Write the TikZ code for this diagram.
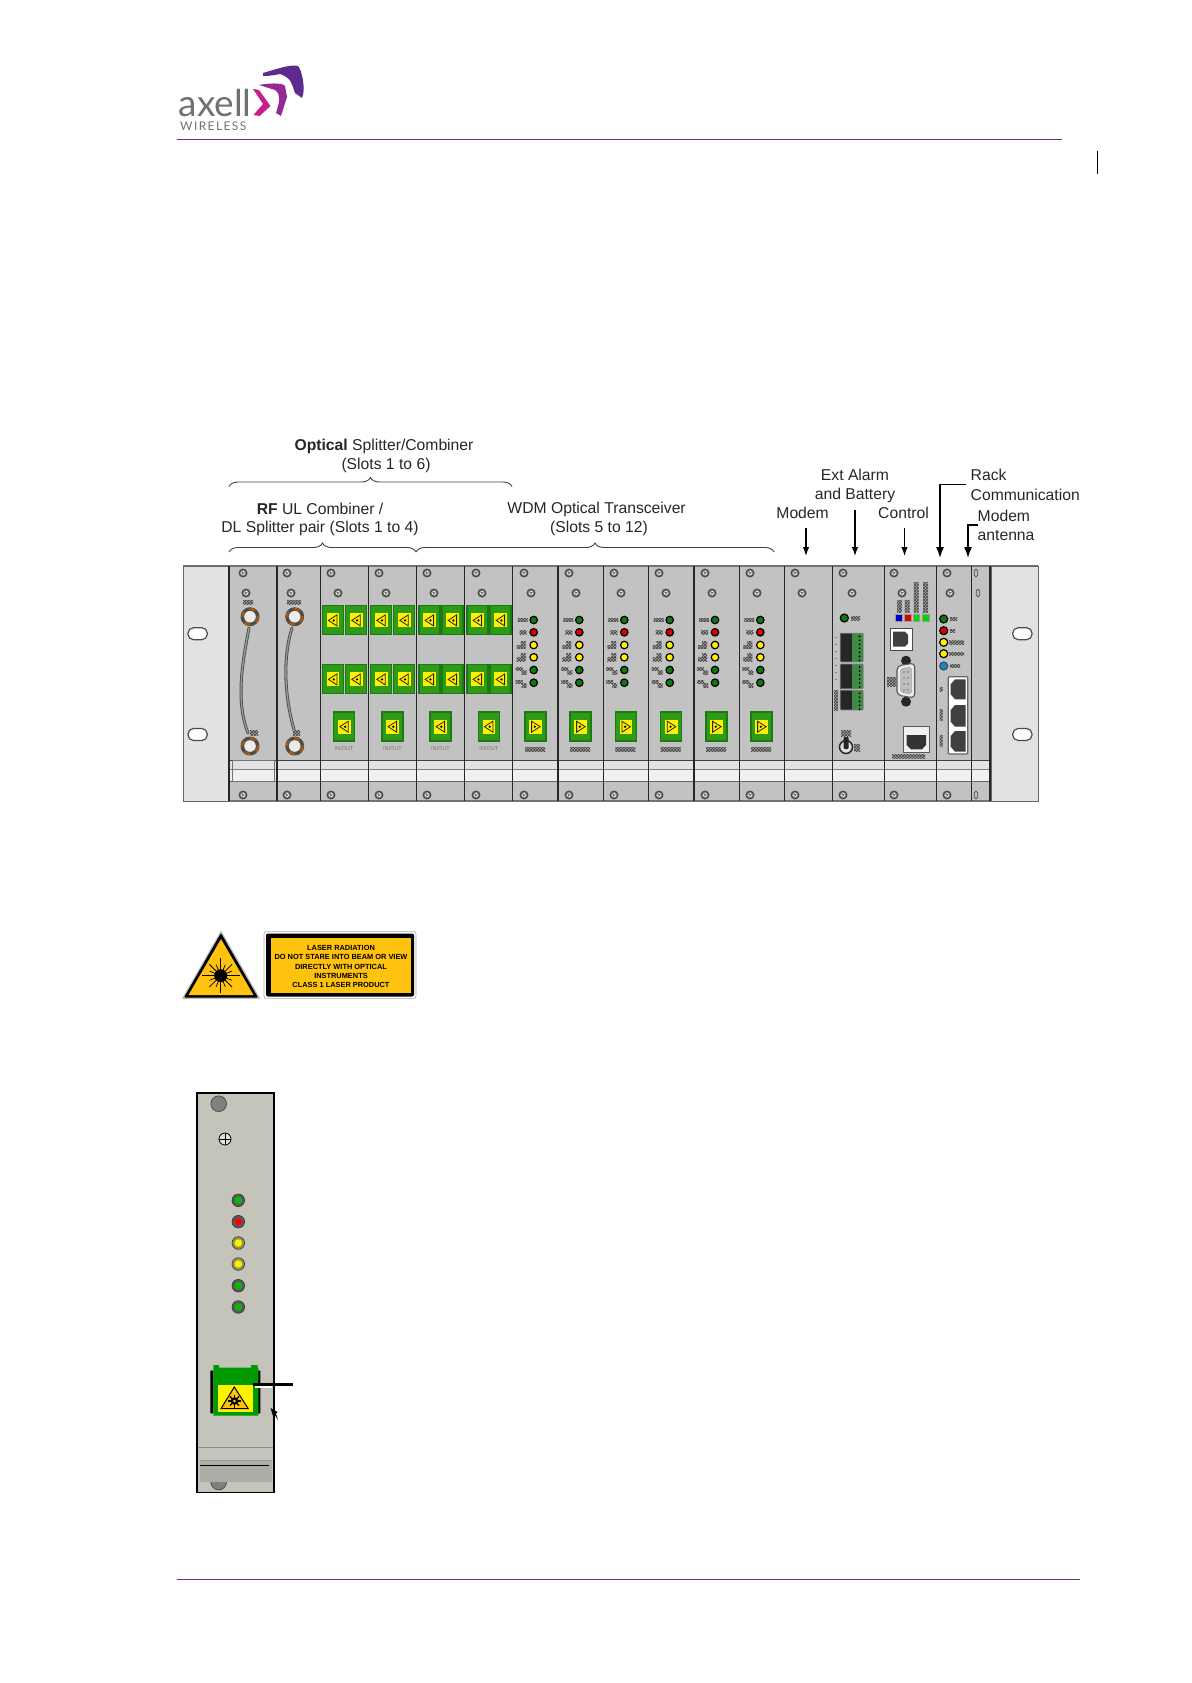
\documentclass[tikz,border=0pt]{standalone}
\usepackage{fontspec}
\setmainfont{Liberation Sans}
\newfontfamily\logofont{Lato}
\usetikzlibrary{arrows.meta,decorations.pathreplacing,patterns}
\definecolor{panel}{HTML}{C2C2C2}
\definecolor{earfill}{HTML}{E2E2E2}
\definecolor{blockgreen}{HTML}{2E9A16}
\definecolor{blockedge}{HTML}{1C7A14}
\definecolor{hazyellow}{HTML}{FFF200}
\definecolor{labelyellow}{HTML}{FFC20E}
\definecolor{ledgreen}{HTML}{0C7A14}
\definecolor{rulepurple}{HTML}{7B2A84}
\definecolor{slotpanel}{HTML}{C4C4BA}
\definecolor{logogray}{HTML}{6E7372}
\definecolor{logopink}{HTML}{C81E8C}
\definecolor{logomid}{HTML}{962896}
\definecolor{logodeep}{HTML}{5E2A90}
\definecolor{termgreen}{HTML}{3F8A45}
\definecolor{slotbar}{HTML}{AAAEA6}
\tikzset{
  lab/.style={font=\fontsize{15.7}{17}\selectfont,text=black!85,inner sep=0pt,align=center},
  pointer/.style={-{Latex[length=9pt,width=6.5pt]},line width=1.3pt},
  heavy/.style={-{Latex[length=11pt,width=8pt]},line width=1.5pt},
  curly/.style={decorate,decoration={brace,amplitude=9pt},line width=.9pt,draw=black!75},
  led/.style={circle,draw=black,line width=1.2pt,minimum size=7.5pt,inner sep=0pt},
  warn/.style={font=\fontsize{7.4}{8}\selectfont\bfseries,inner sep=0pt},
  garble/.style={pattern=crosshatch,pattern color=black!75,draw=none},
  divider/.style={line width=1.5pt,draw=black!85},
  purple rule/.style={line width=1pt,draw=rulepurple}
}
\newcommand\Screw[2]{\fill[black!70] (#1,#2) circle (4.5);\fill[black!35] (#1,#2) circle (2.8);\draw[white,line width=.8pt] (#1-2.4,#2)--(#1+2.4,#2) (#1,#2-2.4)--(#1,#2+2.4);\fill[black!75] (#1,#2) circle (1);}
\newcommand\gb[4]{\fill[black!35] (#1,#2) rectangle ++(#3,#4);\path[garble] (#1,#2) rectangle ++(#3,#4);}
\newcommand\Block[3]{%
  \fill[blockgreen,draw=blockedge,line width=1.4pt] (#1,#2) rectangle ++(21,29);
  \fill[hazyellow] (#1+4.3,#2+7.7) rectangle ++(12.7,14);
  \draw[black!85,line width=.8pt,fill=hazyellow!80!labelyellow] (#1+10.6-#3*4.5,#2+14.7) -- (#1+10.6+#3*4,#2+9.2) -- (#1+10.6+#3*4,#2+20.2) -- cycle;
  \fill[black] (#1+10.6+#3*.8,#2+14.7) circle (1.2);}
\begin{document}
\begin{tikzpicture}[x=1pt,y=-1pt]
\useasboundingbox (0,0) rectangle (1191,1683);
% ---------- header
\node[anchor=base west,inner sep=0pt,text=logogray,font=\logofont\fontsize{37}{37}\selectfont] (logoaxell) at (178.5,116.5) {axell};
\node[anchor=base west,inner sep=0pt,text=logogray,font=\logofont\fontsize{12}{12}\selectfont] (logowireless) at (180,131) {W\kern1.4pt I\kern1.4pt R\kern1.4pt E\kern1.4pt L\kern1.4pt E\kern1.4pt S\kern1.4pt S};
\fill[logopink] (253,89) -- (259,90) -- (270.5,106) -- (259.5,116) -- (253.5,115) -- (263,104) -- cycle;
\fill[logomid] (259,85) .. controls (275,82) and (285,84) .. (285,86) -- (287,97) -- (281,116) -- (276,113) .. controls (280,100) and (281,95) .. (275,90) -- cycle;
\fill[logodeep] (263,73) .. controls (280,68) and (292,64) .. (298,66) .. controls (302,70) and (306,90) .. (302,98) -- (295,93) .. controls (292,85) and (292,78) .. (280,74) .. controls (275,75) and (270,76) .. (263,76) -- cycle;
\coordinate (hrA) at (177,139.5); \coordinate (hrB) at (1062,139.5);
\draw[purple rule] (hrA) -- (hrB);
\coordinate (frA) at (177,1579.5); \coordinate (frB) at (1080,1579.5);
\draw[purple rule] (frA) -- (frB);
\coordinate (barA) at (1097,151); \coordinate (barB) at (1097,174);
\draw[black,line width=.8pt] (barA) -- (barB);
% ---------- rack
\fill[panel] (229,566) rectangle (990,801);
\draw[black!55,line width=1.3pt] (183,566) -- (1038,566) (183,801) -- (1038,801);
\fill[earfill,draw=black!60,line width=.8pt] (183,566) rectangle (229,801);
\fill[earfill,draw=black!60,line width=.8pt] (991,566) rectangle (1038,801);
\foreach \hx in {188,1012.7} \foreach \hy in {627.7,728.5}
  \draw[black!70,fill=white,line width=1.2pt,rounded corners=5.5pt] (\hx,\hy) rectangle ++(19.3,12);
\fill[black!11] (229,760) rectangle (990,769);
\fill[black!6] (229,769) rectangle (990,781);
\draw[black!75,line width=1pt] (229,760) -- (990,760);
\draw[black!50,line width=.8pt] (229,769) -- (990,769);
\draw[black!60,line width=1pt] (229,781.3) -- (990,781.3);
\draw[black!55,line width=1pt] (232.7,760) rectangle (274.7,781);
\foreach \dx in {229,277,320.3,368.3,416.7,464.7,512.7,558,603.3,648.7,694,739.3,784.3,832.7,884.3,936.3,971.3,990}
  \draw[divider] (\dx,566) -- (\dx,801);
\foreach \sx in {243,287,331,379,427,476,524,569,614,659,705,750,795,843,894,947} {\Screw{\sx}{573}}
\foreach \sx in {243,287,331,379,427,476,524,569,614,659,705,750,795,843,894,947} {\Screw{\sx}{795}}
\foreach \sx in {246,291,338,386,434,482,531,576,621,666,712,757,802,852,902,950} {\Screw{\sx}{593}}
\foreach \ovx/\ovy in {976/573,978/593,976/795}
  \draw[black!70,line width=.7pt,fill=black!25,rounded corners=1.7pt] (\ovx-1.8,\ovy-3.8) rectangle (\ovx+1.8,\ovy+3.8);
% RF cables
\foreach \cx/\cy in {250/616.7,250/746,294.7/616.7,294.7/746}{
  \fill[black!70] (\cx,\cy) circle (9.5);
  \draw[orange!70!black,line width=2pt,dash pattern=on 6pt off 6pt] (\cx,\cy) circle (7.8);
  \fill[black!8] (\cx,\cy) circle (5.8);
}
\draw[black!70,line width=3pt,line cap=round] (249,628) .. controls (243,660) and (235,700) .. (248,733);
\draw[black!40,line width=1.3pt,line cap=round] (249,628) .. controls (243,660) and (235,700) .. (248,733);
\draw[black!70,line width=3pt,line cap=round] (292,628) .. controls (282,660) and (285,700) .. (295,733);
\draw[black!40,line width=1.3pt,line cap=round] (292,628) .. controls (282,660) and (285,700) .. (295,733);
\gb{243}{600}{10}{4}\gb{287}{600}{14}{4}\gb{250}{730}{8}{5}\gb{293}{730}{7}{5}
% optical blocks
\foreach \bx in {322.3,345.7,370.7,393.7,419,442,467,490} {
  \Block{\bx}{605.7}{1}
  \Block{\bx}{664.7}{1}
}
\foreach \bx in {333.7,382,430,478.3} {
  \Block{\bx}{712}{1}
  \node[inner sep=0pt,text=black!55,font=\fontsize{5.5}{6}\selectfont] at (\bx+10.5,748.5) {IN/OUT};
}
\foreach \bx in {525,570,615.3,660.7,706,751} {
  \Block{\bx}{712}{-1}
  \gb{\bx}{747}{20}{4.5}
}
% LED columns
\foreach \lx in {533.7,579.3,624.3,669.7,715,760.3} {
  \node[led,fill=ledgreen] at (\lx,620) {};
  \node[led,fill=red!85!black] at (\lx,632.3) {};
  \node[led,fill=yellow] at (\lx,645) {};
  \node[led,fill=yellow] at (\lx,657.3) {};
  \node[led,fill=ledgreen] at (\lx,670) {};
  \node[led,fill=ledgreen] at (\lx,682.7) {};
  \gb{\lx-16}{618.3}{10}{3.6}
  \gb{\lx-14}{630.5}{7}{3.6}
  \gb{\lx-13}{641}{5}{4}\gb{\lx-17}{645}{9}{3.5}
  \gb{\lx-13}{653.5}{5}{4}\gb{\lx-17}{657.5}{9}{3.5}
  \gb{\lx-18}{667}{7}{3.5}\gb{\lx-12}{670.5}{5}{4}
  \gb{\lx-18}{680}{7}{3.5}\gb{\lx-12}{683.5}{5}{4}
}
% alarm module
\node[led,fill=ledgreen,minimum size=8pt] at (844.3,618) {};
\gb{851}{616}{9}{4}
\foreach \ty/\th/\tn in {633.3/28.7/7,664/24.7/6,690.3/19.7/5} {
  \fill[black!85] (840.3,\ty) rectangle ++(12,\th);
  \fill[termgreen] (852.3,\ty) rectangle ++(11,\th);
  \draw[black!50,line width=.8pt,rounded corners=1pt] (840.3,\ty) rectangle ++(23,\th);
  \foreach \tk in {1,...,\tn} \fill[black] (859.5,\ty+\tk*4-1) circle (1);
}
\gb{834}{690}{4}{20}
\foreach \dy in {637,644,651,658,665,672,679} \fill[black!50] (834.5,\dy) rectangle ++(2,1.2);
\gb{841}{730}{10}{6}
\draw[black!85,line width=1.5pt,fill=black!12] (846,747) circle (6.5);
\fill[black!85,rounded corners=1pt] (843.5,737) rectangle (848.5,749);
\gb{854}{744}{6}{7}
% control module
\gb{897}{600}{5}{12}\gb{904.5}{600}{5}{12}\gb{913.5}{582}{5}{30}\gb{923}{582}{5}{30}
\fill[blue!80!black,draw=black!40] (895,614.3) rectangle ++(6.7,7);
\fill[red!90!black,draw=black!40] (904,614.3) rectangle ++(6.7,7);
\fill[green!85!black,draw=black!40] (912.7,614.3) rectangle ++(6.7,7);
\fill[green!85!black,draw=black!40] (922,614.3) rectangle ++(6.7,7);
\draw[black!70,fill=white,line width=1pt] (890.7,628.7) rectangle (912,650);
\fill[black!75] (893,631.7) -- (905,631.7) -- (908,635) -- (908,643.5) -- (905,646.7) -- (893,646.7) -- cycle;
\fill[black!85] (906,660.7) circle (5) (906,701.7) circle (5);
\draw[black!65,fill=black!8,line width=1.1pt,rounded corners=4pt] (897,666) -- (914.7,663) -- (914.7,698) -- (897,695) -- cycle;
\draw[black!50,fill=black!25,rounded corners=3pt] (900.5,669) -- (911.5,667) -- (911.5,694) -- (900.5,692) -- cycle;
\foreach \py in {672,678,684,690} \fill[black!55] (904,\py) circle (.8) (908,\py) circle (.8);
\gb{887}{677}{9}{9}
\draw[black!65,fill=black!6,line width=1pt] (903.3,726.7) rectangle (929.3,752);
\fill[black!80] (906.7,735) -- (926,735) -- (926,745) -- (922,749.3) -- (911,749.3) -- (906.7,745) -- cycle;
\gb{892}{754}{33}{4}
% rack communication module
\node[led,fill=ledgreen,minimum size=8pt] at (943.7,619) {};
\node[led,fill=red!85!black,minimum size=8pt] at (943.7,630.7) {};
\node[led,fill=yellow,minimum size=8pt] at (943.7,642.3) {};
\node[led,fill=yellow,minimum size=8pt] at (943.7,653.7) {};
\node[led,fill=cyan!70!blue,draw=black!70,minimum size=8pt] at (943.7,666) {};
\gb{950}{617.3}{7}{3.4}\gb{950}{629}{5}{3.4}\gb{949}{640.6}{15}{3.4}\gb{949}{652}{15}{3.4}\gb{950}{664.3}{10}{3.4}
\gb{939.5}{687}{3}{4}\gb{939.5}{709}{3}{11}\gb{939.5}{735}{3}{11}
\draw[black!60,fill=white,line width=1.3pt,rounded corners=1pt] (948.3,676.7) rectangle (967.7,754);
\foreach \ry/\rh in {679.3/20,705/21.7,731/20.7}
  \fill[black!75] (955,\ry) -- (965.7,\ry) -- (965.7,\ry+\rh) -- (955,\ry+\rh) -- (950.7,\ry+\rh-5) -- (950.7,\ry+5) -- cycle;
% ---------- rack labels
\node[lab] (optical) at (384,446) {\textbf{Optical} Splitter/Combiner};
\node[lab] (slots6) at (386,465) {(Slots 1 to 6)};
\node[lab] (rfa) at (320,509) {\textbf{RF} UL Combiner /};
\node[lab] (rfb) at (320,528.5) {DL Splitter pair (Slots 1 to 4)};
\node[lab] (wdma) at (596.6,509) {WDM Optical Transceiver};
\node[lab] (wdmb) at (599,528.5) {(Slots 5 to 12)};
\node[lab] (modem) at (802.6,513) {Modem};
\node[lab] (exta) at (855,475) {Ext Alarm};
\node[lab] (extb) at (855,495) {and Battery};
\node[lab] (control) at (903.5,513) {Control};
\node[lab,anchor=west] (racka) at (970.5,475) {Rack};
\node[lab,anchor=west] (rackb) at (970.5,494.5) {Communication};
\node[lab,anchor=west] (antennaa) at (977.5,516) {Modem};
\node[lab,anchor=west] (antennab) at (977.5,535.5) {antenna};
\coordinate (b1a) at (229,486.5); \coordinate (b1b) at (512,486.5);
\coordinate (b2a) at (229,552); \coordinate (b2b) at (416,552);
\coordinate (b3a) at (416,552); \coordinate (b3b) at (774,552);
\draw[curly] (b1a) -- (b1b);
\draw[curly] (b2a) -- (b2b);
\draw[curly] (b3a) -- (b3b);
\coordinate (a1s) at (806,528); \coordinate (a1e) at (806,556);
\coordinate (a2s) at (855,510); \coordinate (a2e) at (855,556);
\coordinate (a3s) at (904.5,528); \coordinate (a3e) at (904.5,556);
\coordinate (a4s) at (966,484.5); \coordinate (a4m) at (940,484.5); \coordinate (a4e) at (940,558);
\coordinate (a5s) at (977.5,525); \coordinate (a5m) at (968,525); \coordinate (a5e) at (968,558);
\draw[pointer] (a1s) -- (a1e);
\draw[pointer] (a2s) -- (a2e);
\draw[pointer] (a3s) -- (a3e);
\draw[heavy] (a4s) -- (a4m) -- (a4e);
\draw[heavy] (a5s) -- (a5m) -- (a5e);
% ---------- laser warning
\fill[black!25] (221,930.5) -- (260.5,998.8) -- (181.8,998.8) -- cycle;
\fill[black,rounded corners=1pt] (221,933) -- (258,997.5) -- (184,997.5) -- cycle;
\fill[labelyellow] (221,939) -- (253.5,995) -- (188.5,995) -- cycle;
\foreach \ang in {0,45,...,315} \draw[black,line width=.8pt] (220.7,975.7) -- ++(\ang:16);
\draw[black,line width=.8pt] (201.5,975.7) -- (240,975.7) (220.7,958) -- (220.7,993);
\foreach \ang in {22.5,67.5,...,337.5} \draw[black,line width=.7pt] (220.7,975.7) -- ++(\ang:12);
\fill[black] (220.7,975.7) circle (6.5);
\draw[black!35,line width=.6pt,rounded corners=2pt] (264,931.7) rectangle (416,998.3);
\fill[black,rounded corners=2pt] (266,933.5) rectangle (414,996.5);
\fill[labelyellow] (270.7,938) rectangle (411,993);
\node[warn] (w1) at (341,947.7) {LASER RADIATION};
\node[warn] (w2) at (341,956.7) {DO NOT STARE INTO BEAM OR VIEW};
\node[warn] (w3) at (341,966.7) {DIRECTLY WITH OPTICAL};
\node[warn] (w4) at (341,975.7) {INSTRUMENTS};
\node[warn] (w5) at (341,985) {CLASS 1  LASER PRODUCT};
% ---------- single module
\fill[slotpanel] (196.7,1092.7) rectangle (273.7,1492.3);
\fill[black!50,draw=black!70,line width=.8pt] (218.7,1103.7) circle (7.8);
\draw[black,line width=.8pt,fill=slotpanel!50!white] (225,1139) circle (6);
\draw[black,line width=.8pt] (219,1139) -- (231,1139) (225,1133) -- (225,1145);
\foreach \my/\mr/\mc in {1200.3/black!65/green!75!black,1221.7/black!65/red,1243/yellow!55!black/yellow,1264/yellow!55!black/yellow,1285.7/black!65/green!75!black,1307/black!65/green!75!black} {
  \fill[\mr,draw=black!80,line width=.6pt] (238.3,\my) circle (6.3);
  \fill[\mc] (238.3,\my) circle (3.7);
}
\draw[black!45,line width=1pt] (197,1447.3) -- (273,1447.3);
\fill[black!50,draw=black!70,line width=.8pt] (218.7,1482) circle (7.8);
\fill[slotbar] (200,1460.7) rectangle (271.7,1481.7);
\draw[black!40,line width=.8pt] (200,1460.7) -- (271.7,1460.7);
\draw[black,line width=.9pt] (200,1465) -- (269,1465);
\draw[black,line width=1.6pt] (196.7,1092.7) rectangle (273.7,1492.3);
\fill[black] (210.3,1370.7) rectangle (213.3,1413.3) (257.3,1370.7) rectangle (260.3,1413.3);
\fill[green!60!black] (213.3,1367.7) rectangle (258.3,1415.7) (213.3,1365) rectangle (219,1368) (251,1365) rectangle (257.5,1368);
\fill[hazyellow] (218,1385) rectangle (252.7,1411.7);
\draw[black,line width=1pt,fill=labelyellow] (234.3,1387) -- (248.3,1408.7) -- (221,1408.7) -- cycle;
\foreach \ang in {0,45,...,315} \draw[black,line width=1.2pt] (234.5,1401) -- ++(\ang:6.5);
\fill[black] (234.5,1401) circle (3.8);
\fill[hazyellow] (234.5,1401) circle (1.4);
\coordinate (ptA) at (253.3,1384.3); \coordinate (ptB) at (292.7,1384.3);
\draw[black,line width=2.8pt] (ptA) -- (ptB);
\coordinate (ptC) at (255,1387); \coordinate (ptD) at (272,1387);
\draw[white,line width=1.6pt] (ptC) -- (ptD);
\coordinate (tipA) at (278,1420); \coordinate (tipB) at (270.5,1408);
\fill[black] (tipB) -- (277.5,1412) -- (276,1413.5) -- (278,1420) -- (274.5,1414.5) -- (273,1416) -- cycle;
\end{tikzpicture}
\end{document}
